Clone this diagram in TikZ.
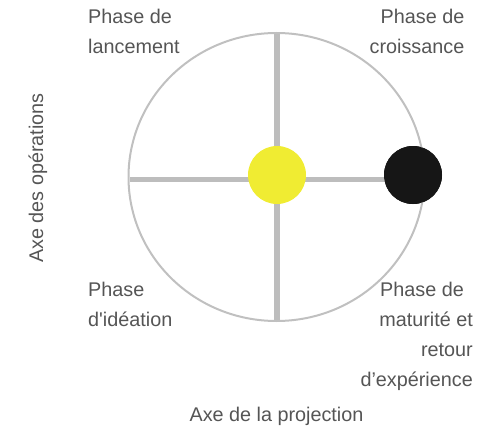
\documentclass[tikz,border=0pt]{standalone}
\usepackage{fontspec}
\newfontfamily\phasefont{Liberation Sans}
\definecolor{ringgray}{RGB}{192,192,192}
\definecolor{axisgray}{RGB}{189,189,189}
\definecolor{dotyellow}{RGB}{240,236,50}
\definecolor{dotblack}{RGB}{22,22,22}
\definecolor{labelgray}{RGB}{85,85,85}
\begin{document}
\begin{tikzpicture}[x=1pt, y=-1pt,
    ring/.style = {draw=ringgray, line width=2pt},
    axis/.style = {draw=axisgray, line width=5.5pt},
    dot/.style = {circle, inner sep=0pt, minimum size=58pt},
    phase/.style = {inner sep=0pt, text=labelgray, font=\phasefont\fontsize{19.8}{30}\selectfont}]
        \useasboundingbox (0,0) rectangle (501,428);
        \coordinate (top) at (277,33);
        \coordinate (bottom) at (277,321);
        \coordinate (left) at (130,179.5);
        \node[dot, fill=dotblack] (end) at (413,175) {};
        %
        \draw[axis] (top) -- (bottom);
        \draw[axis] (left) -- (left -| end);
        \draw[ring] (276.5,177) ellipse [x radius=148pt, y radius=144pt];
        \node[dot, fill=dotyellow] (centre) at (277,175) {};
        \node[dot, fill=dotblack] at (end) {};
        %
        \node[phase, anchor=north west, align=left] (launch) at (88,8.6) {Phase de\\lancement};
        \node[phase, anchor=north east, align=right] (growth) at (464.5,8.6) {Phase de\\croissance};
        \node[phase, anchor=north west, align=left] (idea) at (88,281.6) {Phase\\d'idéation};
        \node[phase, anchor=north east, align=right] (maturity) at (473,281.6)
            {Phase de\hspace*{9pt}\\maturité et\hspace*{9pt}\\retour\hspace*{9pt}\\d’expérience};
        \node[phase, anchor=base] (xaxis) at (276.5,421) {Axe de la projection};
        \node[phase, anchor=base, rotate=90] (yaxis) at (43,178) {Axe des opérations};
      \end{tikzpicture}
\end{document}
